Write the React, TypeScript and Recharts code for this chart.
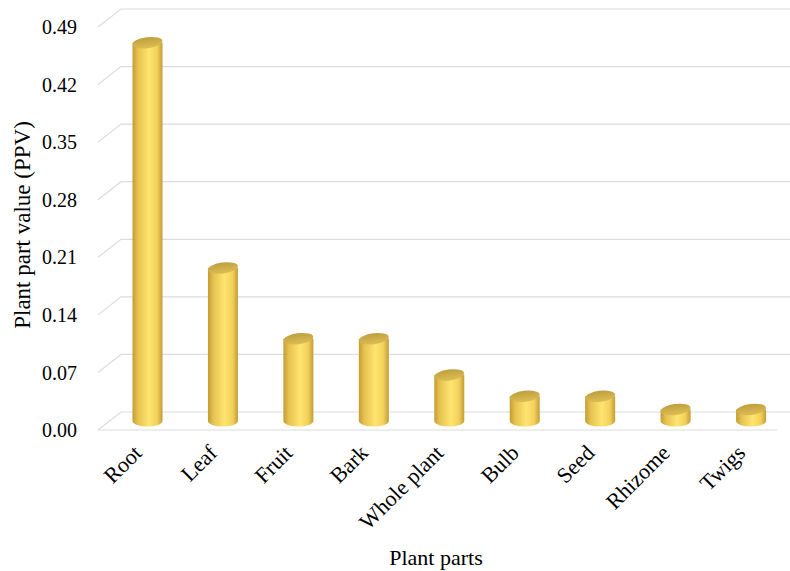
import React from 'react';
import { BarChart, Bar, XAxis, YAxis, CartesianGrid, Label } from 'recharts';

const categories = ['Root', 'Leaf', 'Fruit', 'Bark', 'Whole plant', 'Bulb', 'Seed', 'Rhizome', 'Twigs'];
const ppv = [0.46, 0.186, 0.1, 0.1, 0.056, 0.03, 0.03, 0.014, 0.014];
const yTicks = [0, 0.07, 0.14, 0.21, 0.28, 0.35, 0.42, 0.49];

const data = categories.map((name, i) => ({ name, value: ppv[i] }));

// depth of the fake 3d box (back wall offset)
const DEPTH_X = 23;
const DEPTH_Y = -18;
const FONT = '"Liberation Serif", "Times New Roman", serif';
const GRID = '#DCDCDC';

const gridLine = (p: any) => {
	const { x1, y1, x2, y2 } = p;
	return (
		<path
			key={`grid-${y1}`}
			d={`M${x1},${y1} L${x1 + DEPTH_X},${y1 + DEPTH_Y} L${x2 + DEPTH_X},${y2 + DEPTH_Y}`}
			stroke={GRID}
			strokeWidth={1.2}
			fill="none"
		/>
	);
};

const Cylinder = (props: any) => {
	const { x, y, width, height, index } = props;
	const dx = DEPTH_X / 2;
	const dy = DEPTH_Y / 2;
	const left = x + dx;
	const right = x + dx + width;
	const cx = left + width / 2;
	const top = y + dy;
	const bottom = y + height + dy;
	const rx = width / 2;
	const ry = 5.5;
	const id = `cyl-${index}`;
	return (
		<g>
			<defs>
				<linearGradient id={id} x1="0" y1="0" x2="1" y2="0">
					<stop offset="0%" stopColor="#C39C33" />
					<stop offset="18%" stopColor="#E6C250" />
					<stop offset="55%" stopColor="#FFE470" />
					<stop offset="82%" stopColor="#F2D15B" />
					<stop offset="100%" stopColor="#C29D36" />
				</linearGradient>
				<linearGradient id={`${id}-top`} x1="0" y1="0" x2="0" y2="1">
					<stop offset="0%" stopColor="#BE9F3C" />
					<stop offset="100%" stopColor="#DCBD55" />
				</linearGradient>
			</defs>
			<path
				d={`M${left},${top} L${left},${bottom} A${rx},${ry} 0 0 0 ${right},${bottom} L${right},${top} Z`}
				fill={`url(#${id})`}
			/>
			<ellipse
				cx={cx}
				cy={top}
				rx={rx}
				ry={ry}
				fill={`url(#${id}-top)`}
				transform={`rotate(-7, ${cx}, ${top})`}
			/>
		</g>
	);
};

const CategoryTick = (props: any) => {
	const { x, y, payload } = props;
	const tx = x + 2;
	const ty = y + 19;
	return (
		<text
			x={tx}
			y={ty}
			transform={`rotate(-45, ${tx}, ${ty})`}
			textAnchor="end"
			dominantBaseline="central"
			fontFamily={FONT}
			fontSize={22}
			fill="#000"
		>
			{payload.value}
		</text>
	);
};

const App: React.FC = () => (
	<div style={{ position: 'absolute', left: 0, top: 0, background: '#fff' }}>
		<BarChart
			width={790}
			height={571}
			data={data}
			margin={{ top: 27, right: 13, bottom: 0, left: 0 }}
		>
			<CartesianGrid vertical={false} horizontal={gridLine} />
			<XAxis
				dataKey="name"
				height={141}
				tickLine={false}
				tickSize={0}
				tickMargin={0}
				axisLine={{ stroke: GRID, strokeWidth: 1.2 }}
				tick={<CategoryTick />}
				interval={0}
			>
				<Label
					content={() => (
						<text x={436} y={565} textAnchor="middle" fontFamily={FONT} fontSize={22} fill="#000">
							Plant parts
						</text>
					)}
				/>
			</XAxis>
			<YAxis
				width={98}
				domain={[0, 0.49]}
				ticks={yTicks}
				tickFormatter={(v: number) => v.toFixed(2)}
				axisLine={false}
				tickLine={false}
				tickSize={0}
				tickMargin={21}
				tick={{ fontFamily: FONT, fontSize: 20, fill: '#000' }}
			>
				<Label
					content={() => (
						<text
							x={22}
							y={225}
							transform="rotate(-90, 22, 225)"
							textAnchor="middle"
							dominantBaseline="central"
							fontFamily={FONT}
							fontSize={23}
							fill="#000"
						>
							Plant part value (PPV)
						</text>
					)}
				/>
			</YAxis>
			<Bar dataKey="value" barSize={30} shape={<Cylinder />} isAnimationActive={false} />
		</BarChart>
	</div>
);

export default App;
